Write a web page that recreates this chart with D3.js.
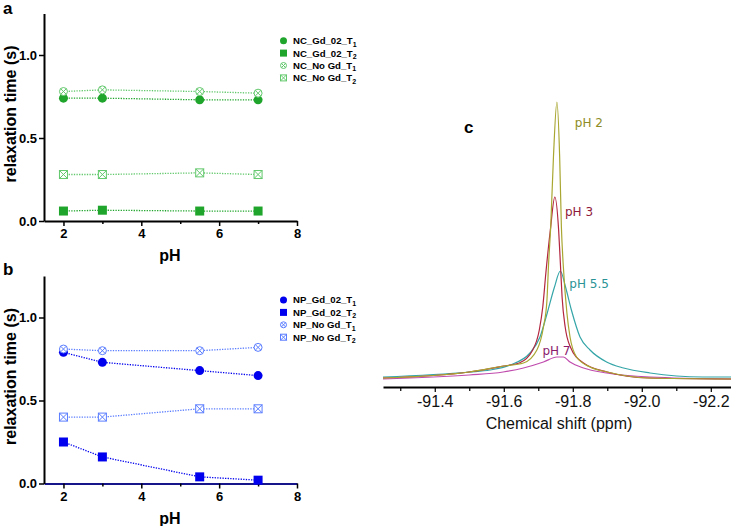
<!DOCTYPE html>
<html>
<head>
<meta charset="utf-8">
<script src="https://cdn.jsdelivr.net/npm/d3@7"></script>
<style>
  html, body { margin: 0; padding: 0; background: #fff; }
  svg { display: block; }
</style>
</head>
<body>
<svg id="chart" width="731" height="526"></svg>
<script>
// ---------------- DATA ----------------
const pHValues = [2, 3, 5.5, 7];
const xTicksAB = [2, 4, 6, 8];
const xMinorAB = [3, 5, 7];
const yTicksAB = [0, 0.5, 1.0];

const NC_Gd_02_T1 = [0.74, 0.74, 0.73, 0.73];
const NC_Gd_02_T2 = [0.06, 0.065, 0.06, 0.06];
const NC_NoGd_T1 = [0.78, 0.79, 0.78, 0.77];
const NC_NoGd_T2 = [0.28, 0.28, 0.29, 0.28];

const NP_Gd_02_T1 = [0.79, 0.73, 0.68, 0.65];
const NP_Gd_02_T2 = [0.25, 0.16, 0.04, 0.02];
const NP_NoGd_T1 = [0.81, 0.80, 0.80, 0.82];
const NP_NoGd_T2 = [0.40, 0.40, 0.45, 0.45];

const legendA = ["NC_Gd_02_T|1", "NC_Gd_02_T|2", "NC_No Gd_T|1", "NC_No Gd_T|2"];
const legendB = ["NP_Gd_02_T|1", "NP_Gd_02_T|2", "NP_No Gd_T|1", "NP_No Gd_T|2"];

// 19F spectra: [chemical shift (ppm), intensity (a.u.)]
const spec_pH2 = [[-91.25, 9], [-91.50, 15], [-91.60, 21], [-91.657, 24], [-91.696, 37], [-91.715, 60], [-91.725, 86], [-91.730, 124], [-91.736, 160], [-91.744, 230], [-91.754, 285], [-91.762, 230], [-91.767, 160], [-91.772, 124], [-91.783, 74], [-91.792, 50], [-91.811, 30], [-91.850, 20], [-91.90, 15], [-92.02, 9], [-92.26, 8]];
const spec_pH3 = [[-91.25, 9], [-91.50, 15], [-91.60, 21], [-91.645, 24], [-91.684, 37], [-91.703, 57], [-91.713, 80], [-91.722, 114], [-91.735, 157], [-91.748, 190], [-91.759, 157], [-91.764, 124], [-91.769, 90], [-91.778, 60], [-91.793, 40], [-91.831, 24], [-91.90, 15], [-92.02, 9], [-92.26, 8]];
const spec_pH55 = [[-91.25, 10], [-91.50, 15], [-91.560, 17], [-91.618, 22], [-91.676, 34], [-91.705, 50], [-91.726, 74], [-91.747, 100], [-91.764, 116], [-91.779, 100], [-91.796, 77], [-91.821, 50], [-91.850, 37], [-91.898, 25], [-91.947, 19], [-92.024, 14], [-92.177, 10], [-92.26, 10]];
const spec_pH7 = [[-91.25, 8], [-91.50, 12], [-91.598, 15], [-91.657, 19], [-91.715, 25], [-91.754, 30], [-91.773, 30], [-91.792, 25], [-91.831, 19], [-91.898, 14], [-92.024, 10], [-92.26, 8]];
const specLabels = ["pH 2", "pH 3", "pH 5.5", "pH 7"];
const xTicksC = [-91.4, -91.6, -91.8, -92.0, -92.2];
const xMinorC = [-91.3, -91.5, -91.7, -91.9, -92.1];

// ---------------- DRAWING ----------------
const svg = d3.select("#chart");
const boldFont = "'Liberation Sans', Arial, sans-serif";

const GREEN = "#1fa52b", LGREEN = "#62c86c";
const BLUE = "#0000ee", LBLUE = "#5a7dff";

function marker(g, type, x, y, color, s) {
  const r = s / 2;
  if (type === "circle") {
    g.append("circle").attr("cx", x).attr("cy", y).attr("r", r).attr("fill", color);
  } else if (type === "square") {
    g.append("rect").attr("x", x - r).attr("y", y - r).attr("width", s).attr("height", s).attr("fill", color);
  } else if (type === "circleX") {
    g.append("circle").attr("cx", x).attr("cy", y).attr("r", r - 0.5).attr("fill", "#fff").attr("stroke", color).attr("stroke-width", 1);
    const d = (r - 0.5) * 0.7;
    g.append("path").attr("d", `M${x - d},${y - d}L${x + d},${y + d}M${x - d},${y + d}L${x + d},${y - d}`).attr("stroke", color).attr("stroke-width", 1);
  } else {
    g.append("rect").attr("x", x - r + 0.5).attr("y", y - r + 0.5).attr("width", s - 1).attr("height", s - 1).attr("fill", "#fff").attr("stroke", color).attr("stroke-width", 1);
    g.append("path").attr("d", `M${x - r + 0.5},${y - r + 0.5}L${x + r - 0.5},${y + r - 0.5}M${x - r + 0.5},${y + r - 0.5}L${x + r - 0.5},${y - r + 0.5}`).attr("stroke", color).attr("stroke-width", 1);
  }
}

function panel(opts) {
  const g = svg.append("g");
  const x = d3.scaleLinear().domain([1.5, 8]).range([44, 297]);
  const y = d3.scaleLinear().domain([0, 1.25]).range([opts.y0, opts.y0 - 207.5]);

  const xAxis = g.append("g").attr("transform", `translate(0,${opts.y0})`)
    .call(d3.axisBottom(x).tickValues(xTicksAB).tickSize(5).tickSizeOuter(0).tickPadding(3).tickFormat(d3.format("d")));
  g.append("g").attr("transform", `translate(0,${opts.y0})`)
    .call(d3.axisBottom(x).tickValues(xMinorAB).tickSize(3).tickSizeOuter(0).tickFormat(""))
    .select(".domain").remove();
  const yAxis = g.append("g").attr("transform", `translate(44,0)`)
    .call(d3.axisLeft(y).tickValues(yTicksAB).tickSize(5).tickSizeOuter(0).tickPadding(2).tickFormat(d3.format(".1f")));
  [xAxis, yAxis].forEach(a => {
    a.select(".domain").attr("stroke-width", 2).attr("stroke", "#000");
    a.selectAll("text").attr("font-family", boldFont).attr("font-weight", "bold").attr("font-size", 13).attr("fill", "#000");
  });
  xAxis.select(".domain").attr("stroke", opts.xAxisColor);
  g.selectAll(".tick line").attr("stroke-width", 1.5);

  g.append("text").attr("x", 170).attr("y", opts.y0 + 40).attr("text-anchor", "middle")
    .attr("font-family", boldFont).attr("font-weight", "bold").attr("font-size", 16).text("pH");
  g.append("text").attr("transform", `translate(16,${opts.y0 - 107}) rotate(-90)`).attr("text-anchor", "middle")
    .attr("font-family", boldFont).attr("font-weight", "bold").attr("font-size", 16).text("relaxation time (s)");
  g.append("text").attr("x", 3).attr("y", opts.letterY).attr("font-family", boldFont).attr("font-weight", "bold")
    .attr("font-size", 17).text(opts.letter);

  const line = d3.line().x((d, i) => x(pHValues[i])).y(d => y(d));
  opts.series.forEach(s => {
    g.append("path").attr("d", line(s.values)).attr("fill", "none").attr("stroke", s.color)
      .attr("stroke-width", 1.3).attr("stroke-dasharray", "1.3,1.3");
  });
  opts.series.forEach(s => {
    s.values.forEach((v, i) => marker(g, s.type, x(pHValues[i]), y(v), s.color, 9));
  });

  const lg = g.append("g");
  opts.series.forEach((s, i) => {
    const ly = opts.legY + i * 12.4;
    marker(lg, s.type, 283.5, ly, s.color, 7);
    const parts = opts.legend[i].split("|");
    const t = lg.append("text").attr("x", 293).attr("y", ly + 3.4).attr("font-family", boldFont)
      .attr("font-weight", "bold").attr("font-size", 9.6).attr("fill", "#000");
    t.append("tspan").text(parts[0]);
    t.append("tspan").attr("dy", 2.5).attr("font-size", 7).text(parts[1]);
  });
}

panel({
  y0: 221, letter: "a", letterY: 14, legY: 40.7, legend: legendA, xAxisColor: "#000",
  series: [
    { values: NC_Gd_02_T1, color: GREEN, type: "circle" },
    { values: NC_Gd_02_T2, color: GREEN, type: "square" },
    { values: NC_NoGd_T1, color: LGREEN, type: "circleX" },
    { values: NC_NoGd_T2, color: LGREEN, type: "squareX" }
  ]
});
panel({
  y0: 483.5, letter: "b", letterY: 275, legY: 300, legend: legendB, xAxisColor: "#16168a",
  series: [
    { values: NP_Gd_02_T1, color: BLUE, type: "circle" },
    { values: NP_Gd_02_T2, color: BLUE, type: "square" },
    { values: NP_NoGd_T1, color: LBLUE, type: "circleX" },
    { values: NP_NoGd_T2, color: LBLUE, type: "squareX" }
  ]
});

// ---------------- Panel c ----------------
const gc = svg.append("g");
const xc = d3.scaleLinear().domain([-91.25, -92.26]).range([383, 731.5]);
const yc = d3.scaleLinear().domain([0, 300]).range([387, 87]);

const spectra = [
  { data: spec_pH7, color: "#c04cae", label: specLabels[3], lc: "#8c1a6c", lx: -91.712, ly: 37 },
  { data: spec_pH55, color: "#35a5a8", label: specLabels[2], lc: "#2a9396", lx: -91.790, ly: 104 },
  { data: spec_pH3, color: "#b3263f", label: specLabels[1], lc: "#901a3a", lx: -91.7775, ly: 176 },
  { data: spec_pH2, color: "#a9a732", label: specLabels[0], lc: "#8e8c25", lx: -91.806, ly: 265 }
];
const lineC = d3.line().x(d => xc(d[0])).y(d => yc(d[1])).curve(d3.curveMonotoneX);
spectra.forEach(s => {
  gc.append("path").attr("d", lineC(s.data)).attr("fill", "none").attr("stroke", s.color).attr("stroke-width", 1.2);
});
spectra.forEach(s => {
  gc.append("text").attr("x", xc(s.lx)).attr("y", yc(s.ly) + 4.5).attr("font-family", "'DejaVu Sans', sans-serif")
    .attr("font-size", 12).attr("fill", s.lc).text(s.label);
});

const xcAxis = gc.append("g").attr("transform", "translate(0,387)")
  .call(d3.axisBottom(xc).tickValues(xTicksC).tickSize(5).tickSizeOuter(0).tickPadding(4).tickFormat(d => d.toFixed(1)));
gc.append("g").attr("transform", "translate(0,387)")
  .call(d3.axisBottom(xc).tickValues(xMinorC).tickSize(4).tickSizeOuter(0).tickFormat(""))
  .select(".domain").remove();
xcAxis.select(".domain").attr("stroke-width", 2);
gc.selectAll(".tick line").attr("stroke-width", 1.2);
xcAxis.selectAll("text").attr("font-family", "'Liberation Sans', Arial, sans-serif").attr("font-size", 16).attr("fill", "#111");
gc.append("text").attr("x", 559).attr("y", 429).attr("text-anchor", "middle")
  .attr("font-family", "'Liberation Sans', Arial, sans-serif").attr("font-size", 16).attr("fill", "#111").text("Chemical shift (ppm)");
gc.append("text").attr("x", 464).attr("y", 133).attr("font-family", boldFont).attr("font-weight", "bold")
  .attr("font-size", 17).text("c");
</script>
</body>
</html>
